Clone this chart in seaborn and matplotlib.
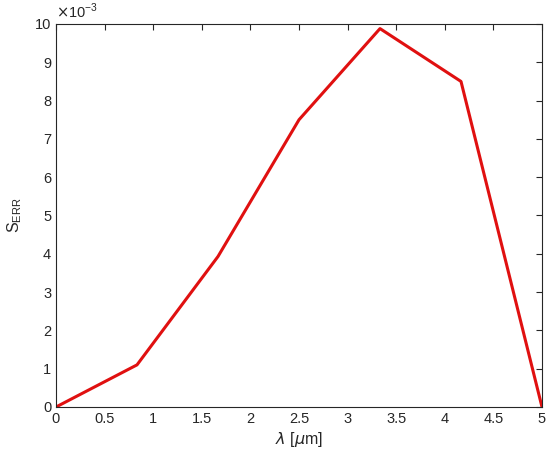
import matplotlib
matplotlib.use("Agg")
import matplotlib.pyplot as plt
import seaborn as sns
import pandas as pd

wavelength = [0.0, 5/6, 10/6, 2.5, 20/6, 25/6, 5.0]
s_err = [0.0, 1.1e-3, 3.93e-3, 7.5e-3, 9.88e-3, 8.5e-3, 0.0]
xticks = [0, 0.5, 1, 1.5, 2, 2.5, 3, 3.5, 4, 4.5, 5]
yticks = list(range(0, 11))

sns.set_style("white")
plt.rcParams['font.family'] = ['Liberation Sans', 'DejaVu Sans']
plt.rcParams['mathtext.fontset'] = 'dejavusans'

df = pd.DataFrame({"x": wavelength, "y": [v * 1e3 for v in s_err]})

fig = plt.figure(figsize=(5.5, 4.59), dpi=100)
ax = fig.add_axes([56/550, 1 - 407/459, (542-56)/550, (407-24)/459])
sns.lineplot(data=df, x="x", y="y", ax=ax, color="#e01010", linewidth=2.2, sort=False)
ax.set_xlim(0, 5)
ax.set_ylim(0, 10)
ax.set_xticks(xticks)
ax.set_xticklabels([f"{t:g}" for t in xticks])
ax.set_yticks(yticks)
ax.set_yticklabels([str(t) for t in yticks])
ax.tick_params(direction="in", length=4, width=0.8, colors="#262626", labelsize=10.5,
               top=True, right=True, labelcolor="#262626")
for s in ax.spines.values():
    s.set_visible(True)
    s.set_color("#262626")
    s.set_linewidth(0.8)
ax.set_xlabel(r"$\lambda$ [$\mu$m]", fontsize=11.5, color="#262626", labelpad=3)
ax.set_ylabel(r"S$_{\mathregular{ERR}}$", fontsize=11.5, color="#262626", labelpad=8)
ax.text(0.0, 1.008, r"$\times$10$^{\mathregular{-3}}$", transform=ax.transAxes, fontsize=10.5,
        color="#262626", ha="left", va="bottom")
ax.grid(False)
fig.savefig("out.png", dpi=100, facecolor="white")
